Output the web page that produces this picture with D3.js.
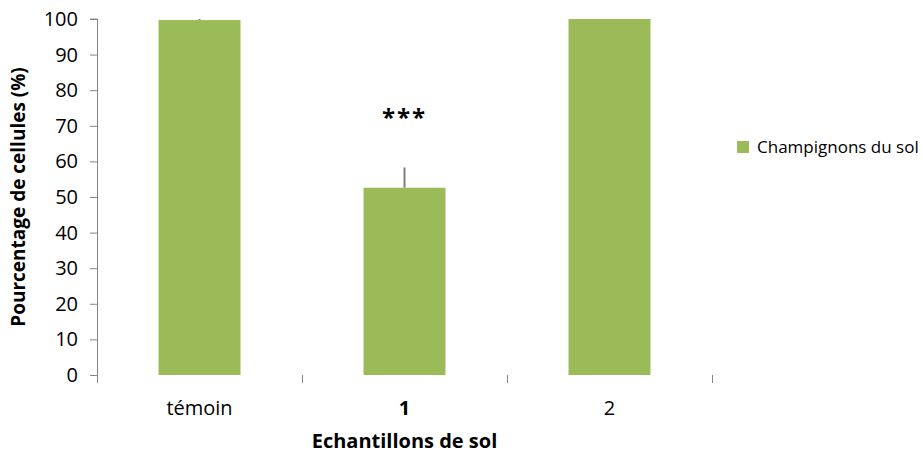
<!DOCTYPE html>
<html>
<head>
<meta charset="utf-8">
<script src="https://cdn.jsdelivr.net/npm/d3@7"></script>
<style>
  body { margin: 0; background: #fff; }
  svg { display: block; }
</style>
</head>
<body>
<div id="chart"></div>
<script>
// data
const categories = ["témoin", "1", "2"];
const values = [99.7, 52.6, 100];
const errors = [0.3, 5.7, 0];
const stars = ["", "***", ""];
const yTicks = [0, 10, 20, 30, 40, 50, 60, 70, 80, 90, 100];
const seriesName = "Champignons du sol";

const width = 923, height = 454;
const margin = { left: 97, right: 211, top: 19, bottom: 79 };
const green = "#9BBB59";
const font = "'Open Sans', 'Liberation Sans', sans-serif";

const svg = d3.select("#chart").append("svg")
    .attr("width", width)
    .attr("height", height)
    .style("font-family", font);

const x = d3.scaleBand()
    .domain(categories)
    .range([margin.left, width - margin.right])
    .paddingInner(0.6)
    .paddingOuter(0.3);

const y = d3.scaleLinear()
    .domain([0, 100])
    .range([height - margin.bottom, margin.top]);

// y axis
const yAxis = svg.append("g")
    .attr("transform", "translate(" + margin.left + ",0)")
    .call(d3.axisLeft(y).tickValues(yTicks).tickSize(7).tickPadding(12).tickFormat(d3.format("d")));
yAxis.select(".domain").attr("stroke", "#868686").attr("d", "M-7," + y(100) + "H0.5V" + y(0));
yAxis.selectAll(".tick line").attr("stroke", "#868686");
yAxis.selectAll(".tick text")
    .attr("font-size", 20)
    .attr("font-family", font)
    .attr("fill", "#000");

// x axis: ticks between categories, no visible baseline
const xAxisY = y(0);
const step = x.step();
const boundaries = d3.range(categories.length + 1).map(i => margin.left + i * step);
svg.append("g").selectAll("line")
    .data(boundaries)
    .join("line")
    .attr("x1", d => Math.round(d) + 0.5).attr("x2", d => Math.round(d) + 0.5)
    .attr("y1", xAxisY).attr("y2", xAxisY + 8)
    .attr("stroke", "#868686");

svg.append("g").selectAll("text")
    .data(categories)
    .join("text")
    .attr("x", d => x(d) + x.bandwidth() / 2)
    .attr("y", xAxisY + 40)
    .attr("text-anchor", "middle")
    .attr("font-size", 20)
    .attr("font-weight", d => d === "1" ? "bold" : "normal")
    .text(d => d);

// bars
svg.append("g").selectAll("rect")
    .data(values)
    .join("rect")
    .attr("x", (d, i) => x(categories[i]))
    .attr("y", d => y(d))
    .attr("width", x.bandwidth())
    .attr("height", d => y(0) - y(d))
    .attr("fill", green);

// error bars (upper only)
svg.append("g").selectAll("line")
    .data(values)
    .join("line")
    .attr("x1", (d, i) => x(categories[i]) + x.bandwidth() / 2)
    .attr("x2", (d, i) => x(categories[i]) + x.bandwidth() / 2)
    .attr("y1", d => y(d))
    .attr("y2", (d, i) => y(d + errors[i]))
    .attr("stroke", "#808080")
    .attr("stroke-width", 2);

// significance stars
svg.append("g").selectAll("text")
    .data(stars)
    .join("text")
    .attr("x", (d, i) => x(categories[i]) + x.bandwidth() / 2)
    .attr("y", 126)
    .attr("text-anchor", "middle")
    .attr("font-size", 24)
    .attr("font-weight", "bold")
    .attr("letter-spacing", 2)
    .text(d => d);

// axis titles
svg.append("text")
    .attr("transform", "translate(25," + ((y(0) + y(100)) / 2) + ") rotate(-90)")
    .attr("text-anchor", "middle")
    .attr("font-size", 19)
    .attr("font-weight", "bold")
    .text("Pourcentage de cellules (%)");

svg.append("text")
    .attr("x", x("1") + x.bandwidth() / 2)
    .attr("y", 448)
    .attr("text-anchor", "middle")
    .attr("font-size", 20)
    .attr("font-weight", "bold")
    .text("Echantillons de sol");

// legend
const legend = svg.append("g").attr("transform", "translate(737,141)");
legend.append("rect")
    .attr("width", 12).attr("height", 12)
    .attr("fill", green);
legend.append("text")
    .attr("x", 20).attr("y", 12)
    .attr("font-size", 17)
    .text(seriesName);
</script>
</body>
</html>
